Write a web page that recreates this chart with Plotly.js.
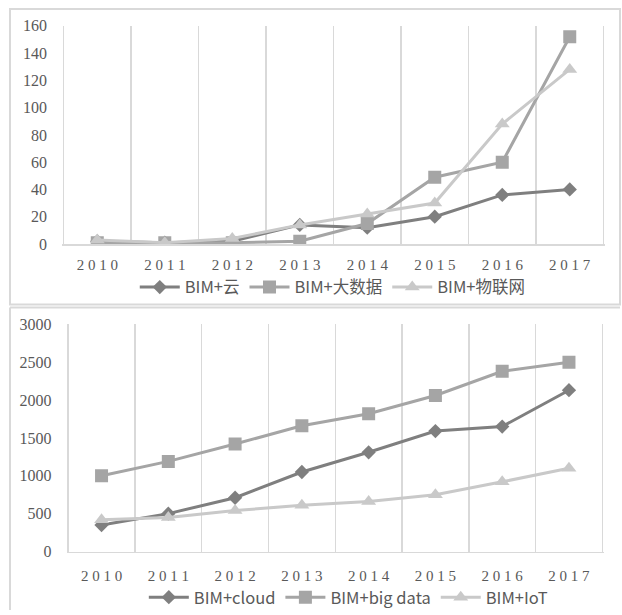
<!DOCTYPE html>
<html>
<head>
<meta charset="utf-8">
<script src="https://cdn.plot.ly/plotly-3.0.1.min.js"></script>
<style>html,body{margin:0;padding:0;background:#fff;}#chart{width:622px;height:615px;}</style>
</head>
<body>
<div id="chart"></div>
<script>
var years = ['2010','2011','2012','2013','2014','2015','2016','2017'];
var yearLabels = years.map(function(y){ return y.split('').join(' '); });

// Top panel (Chinese)
var cnNames = ['BIM+云', 'BIM+大数据', 'BIM+物联网'];
var cloudCn = [2, 1, 2, 14, 12, 20, 36, 40];
var bigDataCn = [1, 1, 1, 2, 15, 49, 60, 152];
var iotCn = [3, 1, 4, 14, 22, 30, 88, 128];

// Bottom panel (English)
var enNames = ['BIM+cloud', 'BIM+big data', 'BIM+IoT'];
var cloudEn = [350, 500, 710, 1050, 1310, 1590, 1650, 2130];
var bigDataEn = [1000, 1190, 1420, 1660, 1820, 2060, 2380, 2500];
var iotEn = [420, 450, 540, 610, 660, 750, 920, 1100];

var colors = ['#7f7f7f', '#a5a5a5', '#c9c9c9'];
var symbols = ['diamond', 'square', 'triangle-up'];
var sizes = [11, 13, 13];

function tr(name, vals, i, xa, ya, leg) {
  return {
    x: years, y: vals, name: name, type: 'scatter', mode: 'lines+markers',
    xaxis: xa, yaxis: ya, legend: leg,
    line: {color: colors[i], width: 3},
    marker: {color: colors[i], symbol: symbols[i], size: sizes[i]}
  };
}

var data = [
  tr(cnNames[0], cloudCn, 0, 'x', 'y', 'legend'),
  tr(cnNames[1], bigDataCn, 1, 'x', 'y', 'legend'),
  tr(cnNames[2], iotCn, 2, 'x', 'y', 'legend'),
  tr(enNames[0], cloudEn, 0, 'x2', 'y2', 'legend2'),
  tr(enNames[1], bigDataEn, 1, 'x2', 'y2', 'legend2'),
  tr(enNames[2], iotEn, 2, 'x2', 'y2', 'legend2')
];

var serif = 'Liberation Serif, Times New Roman, serif';
var sans = 'Noto Sans CJK SC, Noto Sans, sans-serif';

function xax(dom, anchor, standoff) {
  return {
    domain: dom, anchor: anchor, type: 'category',
    tickmode: 'array', tickvals: years, ticktext: yearLabels,
    tickson: 'boundaries', showgrid: true, gridcolor: '#d9d9d9', gridwidth: 1.5,
    showline: true, linecolor: '#d9d9d9', linewidth: 1.5, ticks: '',
    tickfont: {family: serif, size: 15, color: '#595959'},
    ticklabelstandoff: standoff,
    zeroline: false, fixedrange: true
  };
}
function yax(dom, anchor, range, dtick) {
  return {
    domain: dom, anchor: anchor, range: range, dtick: dtick,
    showgrid: false, zeroline: false, showline: false, ticks: '',
    tickfont: {family: serif, size: 16, color: '#595959'},
    ticklabelstandoff: 14, fixedrange: true
  };
}

var layout = {
  width: 622, height: 615,
  margin: {l: 0, r: 0, t: 0, b: 0},
  paper_bgcolor: '#ffffff', plot_bgcolor: '#ffffff',
  showlegend: true,
  xaxis: xax([0.0997, 0.9727], 'y', 6),
  yaxis: yax([0.6, 0.9577], 'x', [0, 160], 20),
  xaxis2: xax([0.107, 0.971], 'y2', 10),
  yaxis2: yax([0.0959, 0.4683], 'x2', [0, 3000], 500),
  legend: {
    orientation: 'h', x: 0.535, xanchor: 'center', y: 0.529, yanchor: 'middle',
    font: {family: sans, size: 16.5, color: '#595959'}, itemwidth: 40,
    bgcolor: 'rgba(0,0,0,0)'
  },
  legend2: {
    orientation: 'h', x: 0.56, xanchor: 'center', y: 0.02, yanchor: 'middle',
    font: {family: sans, size: 16.5, color: '#595959'}, itemwidth: 40,
    bgcolor: 'rgba(0,0,0,0)'
  },
  shapes: [
    {type: 'rect', xref: 'paper', yref: 'paper', x0: 10/622, x1: 620/622, y0: 1 - 307/615, y1: 1 - 9/615,
     line: {color: '#d9d9d9', width: 2}, fillcolor: 'rgba(0,0,0,0)'},
    {type: 'line', xref: 'paper', yref: 'paper', x0: 10/622, x1: 10/622, y0: 0, y1: 1 - 310/615,
     line: {color: '#d9d9d9', width: 2}},
    {type: 'line', xref: 'paper', yref: 'paper', x0: 10/622, x1: 620/622, y0: 1 - 310/615, y1: 1 - 310/615,
     line: {color: '#d9d9d9', width: 2}}
  ]
};

Plotly.newPlot('chart', data, layout, {displayModeBar: false, staticPlot: true});
</script>
</body>
</html>
